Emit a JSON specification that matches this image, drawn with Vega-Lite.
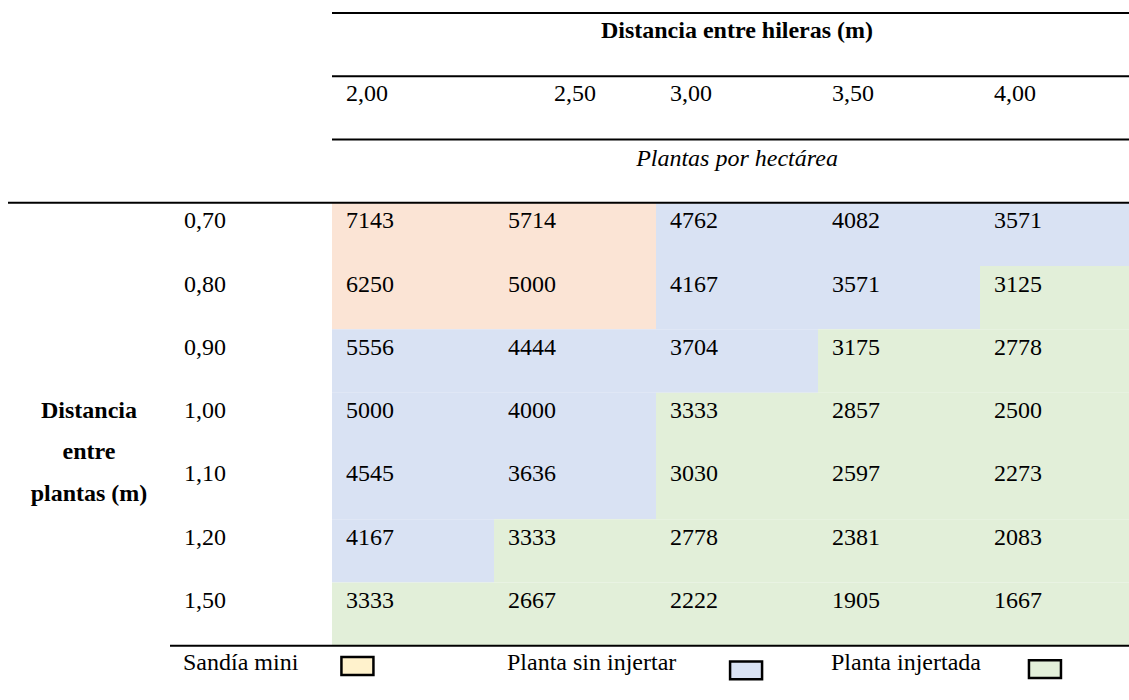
{
  "$schema": "https://vega.github.io/schema/vega-lite/v6.json",
  "width": 1129,
  "height": 700,
  "autosize": {"type": "none"},
  "padding": 0,
  "background": "white",
  "config": {
    "view": {"stroke": null},
    "text": {"font": "Liberation Serif", "fontSize": 24, "color": "black"}
  },
  "datasets": {
    "celdas": [
      {"plantas": "0,70", "hileras": "2,00", "valor": 7143, "tipo": "Sandía mini"},
      {"plantas": "0,70", "hileras": "2,50", "valor": 5714, "tipo": "Sandía mini"},
      {"plantas": "0,70", "hileras": "3,00", "valor": 4762, "tipo": "Planta sin injertar"},
      {"plantas": "0,70", "hileras": "3,50", "valor": 4082, "tipo": "Planta sin injertar"},
      {"plantas": "0,70", "hileras": "4,00", "valor": 3571, "tipo": "Planta sin injertar"},
      {"plantas": "0,80", "hileras": "2,00", "valor": 6250, "tipo": "Sandía mini"},
      {"plantas": "0,80", "hileras": "2,50", "valor": 5000, "tipo": "Sandía mini"},
      {"plantas": "0,80", "hileras": "3,00", "valor": 4167, "tipo": "Planta sin injertar"},
      {"plantas": "0,80", "hileras": "3,50", "valor": 3571, "tipo": "Planta sin injertar"},
      {"plantas": "0,80", "hileras": "4,00", "valor": 3125, "tipo": "Planta injertada"},
      {"plantas": "0,90", "hileras": "2,00", "valor": 5556, "tipo": "Planta sin injertar"},
      {"plantas": "0,90", "hileras": "2,50", "valor": 4444, "tipo": "Planta sin injertar"},
      {"plantas": "0,90", "hileras": "3,00", "valor": 3704, "tipo": "Planta sin injertar"},
      {"plantas": "0,90", "hileras": "3,50", "valor": 3175, "tipo": "Planta injertada"},
      {"plantas": "0,90", "hileras": "4,00", "valor": 2778, "tipo": "Planta injertada"},
      {"plantas": "1,00", "hileras": "2,00", "valor": 5000, "tipo": "Planta sin injertar"},
      {"plantas": "1,00", "hileras": "2,50", "valor": 4000, "tipo": "Planta sin injertar"},
      {"plantas": "1,00", "hileras": "3,00", "valor": 3333, "tipo": "Planta injertada"},
      {"plantas": "1,00", "hileras": "3,50", "valor": 2857, "tipo": "Planta injertada"},
      {"plantas": "1,00", "hileras": "4,00", "valor": 2500, "tipo": "Planta injertada"},
      {"plantas": "1,10", "hileras": "2,00", "valor": 4545, "tipo": "Planta sin injertar"},
      {"plantas": "1,10", "hileras": "2,50", "valor": 3636, "tipo": "Planta sin injertar"},
      {"plantas": "1,10", "hileras": "3,00", "valor": 3030, "tipo": "Planta injertada"},
      {"plantas": "1,10", "hileras": "3,50", "valor": 2597, "tipo": "Planta injertada"},
      {"plantas": "1,10", "hileras": "4,00", "valor": 2273, "tipo": "Planta injertada"},
      {"plantas": "1,20", "hileras": "2,00", "valor": 4167, "tipo": "Planta sin injertar"},
      {"plantas": "1,20", "hileras": "2,50", "valor": 3333, "tipo": "Planta injertada"},
      {"plantas": "1,20", "hileras": "3,00", "valor": 2778, "tipo": "Planta injertada"},
      {"plantas": "1,20", "hileras": "3,50", "valor": 2381, "tipo": "Planta injertada"},
      {"plantas": "1,20", "hileras": "4,00", "valor": 2083, "tipo": "Planta injertada"},
      {"plantas": "1,50", "hileras": "2,00", "valor": 3333, "tipo": "Planta injertada"},
      {"plantas": "1,50", "hileras": "2,50", "valor": 2667, "tipo": "Planta injertada"},
      {"plantas": "1,50", "hileras": "3,00", "valor": 2222, "tipo": "Planta injertada"},
      {"plantas": "1,50", "hileras": "3,50", "valor": 1905, "tipo": "Planta injertada"},
      {"plantas": "1,50", "hileras": "4,00", "valor": 1667, "tipo": "Planta injertada"}
    ],
    "lineas": [
      {"fila": "titulo", "desde": "2,00", "hasta": "4,00"},
      {"fila": "hileras", "desde": "2,00", "hasta": "4,00"},
      {"fila": "unidad", "desde": "2,00", "hasta": "4,00"},
      {"fila": "0,70", "desde": "c0", "hasta": "4,00"},
      {"fila": "leyenda", "desde": "c1", "hasta": "4,00"}
    ],
    "leyenda": [
      {"tipo": "Sandía mini", "columna": "c1", "caja": "2,00"},
      {"tipo": "Planta sin injertar", "columna": "2,50", "caja": "3,00"},
      {"tipo": "Planta injertada", "columna": "3,50", "caja": "4,00"}
    ]
  },
  "layer": [
    {
      "data": {"name": "celdas"},
      "mark": {"type": "rect", "clip": true},
      "encoding": {
        "x": {"field": "hileras", "type": "nominal", "axis": null,
              "scale": {"domain": ["c0", "c1", "2,00", "2,50", "3,00", "3,50", "4,00"], "range": [8, 1142], "paddingInner": 0, "paddingOuter": 0}},
        "y": {"field": "plantas", "type": "nominal", "axis": null,
              "scale": {"domain": ["titulo", "hileras", "unidad", "0,70", "0,80", "0,90", "1,00", "1,10", "1,20", "1,50", "leyenda"], "range": [13, 709], "paddingInner": 0, "paddingOuter": 0}},
        "fill": {"field": "tipo", "type": "nominal", "legend": null,
                 "scale": {"domain": ["Sandía mini", "Planta sin injertar", "Planta injertada"], "range": ["#FBE4D5", "#D9E2F3", "#E2EFD9"]}}
      }
    },
    {
      "data": {"name": "celdas"},
      "mark": {"type": "text", "align": "left", "baseline": "alphabetic", "dx": 14, "dy": 25.5},
      "encoding": {
        "x": {"field": "hileras", "type": "nominal", "bandPosition": 0},
        "y": {"field": "plantas", "type": "nominal", "bandPosition": 0},
        "text": {"field": "valor", "type": "quantitative", "format": "d"}
      }
    },
    {
      "data": {"name": "celdas"},
      "transform": [{"filter": "datum.hileras == '2,00'"}],
      "mark": {"type": "text", "align": "left", "baseline": "alphabetic", "dx": 14, "dy": 25.5},
      "encoding": {
        "x": {"datum": "c1", "type": "nominal", "bandPosition": 0},
        "y": {"field": "plantas", "type": "nominal", "bandPosition": 0},
        "text": {"field": "plantas", "type": "nominal"}
      }
    },
    {
      "data": {"name": "celdas"},
      "transform": [{"filter": "datum.plantas == '0,70' && datum.hileras != '2,50'"}],
      "mark": {"type": "text", "align": "left", "baseline": "alphabetic", "dx": 14, "dy": 25},
      "encoding": {
        "x": {"field": "hileras", "type": "nominal", "bandPosition": 0},
        "y": {"datum": "hileras", "type": "nominal", "bandPosition": 0},
        "text": {"field": "hileras", "type": "nominal"}
      }
    },
    {
      "data": {"name": "celdas"},
      "transform": [{"filter": "datum.plantas == '0,70' && datum.hileras == '2,50'"}],
      "mark": {"type": "text", "align": "left", "baseline": "alphabetic", "dx": 60, "dy": 25},
      "encoding": {
        "x": {"field": "hileras", "type": "nominal", "bandPosition": 0},
        "y": {"datum": "hileras", "type": "nominal", "bandPosition": 0},
        "text": {"field": "hileras", "type": "nominal"}
      }
    },
    {
      "data": {"values": [{"texto": "Distancia entre hileras (m)"}]},
      "mark": {"type": "text", "align": "center", "baseline": "alphabetic", "fontWeight": "bold", "dy": 25},
      "encoding": {
        "x": {"datum": "3,00", "type": "nominal"},
        "y": {"datum": "titulo", "type": "nominal", "bandPosition": 0},
        "text": {"field": "texto", "type": "nominal"}
      }
    },
    {
      "data": {"values": [{"texto": "Plantas por hectárea"}]},
      "mark": {"type": "text", "align": "center", "baseline": "alphabetic", "fontStyle": "italic", "dy": 26},
      "encoding": {
        "x": {"datum": "3,00", "type": "nominal"},
        "y": {"datum": "unidad", "type": "nominal", "bandPosition": 0},
        "text": {"field": "texto", "type": "nominal"}
      }
    },
    {
      "data": {"values": [{"texto": "Distancia\nentre\nplantas (m)"}]},
      "mark": {"type": "text", "align": "center", "baseline": "alphabetic", "fontWeight": "bold", "lineBreak": "\n", "lineHeight": 41.5, "dy": 25},
      "encoding": {
        "x": {"datum": "c0", "type": "nominal"},
        "y": {"datum": "1,00", "type": "nominal", "bandPosition": 0},
        "text": {"field": "texto", "type": "nominal"}
      }
    },
    {
      "data": {"name": "lineas"},
      "mark": {"type": "rule", "color": "black", "strokeWidth": 2, "clip": true},
      "encoding": {
        "x": {"field": "desde", "type": "nominal", "bandPosition": 0},
        "x2": {"field": "hasta", "bandPosition": 1},
        "y": {"field": "fila", "type": "nominal", "bandPosition": 0}
      }
    },
    {
      "data": {"name": "leyenda"},
      "mark": {"type": "text", "align": "left", "baseline": "alphabetic", "dx": 13, "dy": 24},
      "encoding": {
        "x": {"field": "columna", "type": "nominal", "bandPosition": 0},
        "y": {"datum": "leyenda", "type": "nominal", "bandPosition": 0},
        "text": {"field": "tipo", "type": "nominal"}
      }
    },
    {
      "data": {"name": "leyenda"},
      "transform": [{"filter": "datum.tipo == 'Sandía mini'"}],
      "mark": {"type": "point", "filled": true, "shape": "M-1,-0.56H1V0.56H-1Z", "size": 1024, "fill": "#FFF2CC", "stroke": "black", "strokeWidth": 2.5, "opacity": 1},
      "encoding": {
        "x": {"field": "caja", "type": "nominal", "bandPosition": 0.157},
        "y": {"datum": "leyenda", "type": "nominal", "bandPosition": 0.32}
      }
    },
    {
      "data": {"name": "leyenda"},
      "transform": [{"filter": "datum.tipo == 'Planta sin injertar'"}],
      "mark": {"type": "point", "filled": true, "shape": "M-1,-0.56H1V0.56H-1Z", "size": 1024, "fill": "#D9E2F3", "stroke": "black", "strokeWidth": 2.5, "opacity": 1},
      "encoding": {
        "x": {"field": "caja", "type": "nominal", "bandPosition": 0.556},
        "y": {"datum": "leyenda", "type": "nominal", "bandPosition": 0.39}
      }
    },
    {
      "data": {"name": "leyenda"},
      "transform": [{"filter": "datum.tipo == 'Planta injertada'"}],
      "mark": {"type": "point", "filled": true, "shape": "M-1,-0.56H1V0.56H-1Z", "size": 1024, "fill": "#E2EFD9", "stroke": "black", "strokeWidth": 2.5, "opacity": 1},
      "encoding": {
        "x": {"field": "caja", "type": "nominal", "bandPosition": 0.401},
        "y": {"datum": "leyenda", "type": "nominal", "bandPosition": 0.37}
      }
    }
  ]
}
